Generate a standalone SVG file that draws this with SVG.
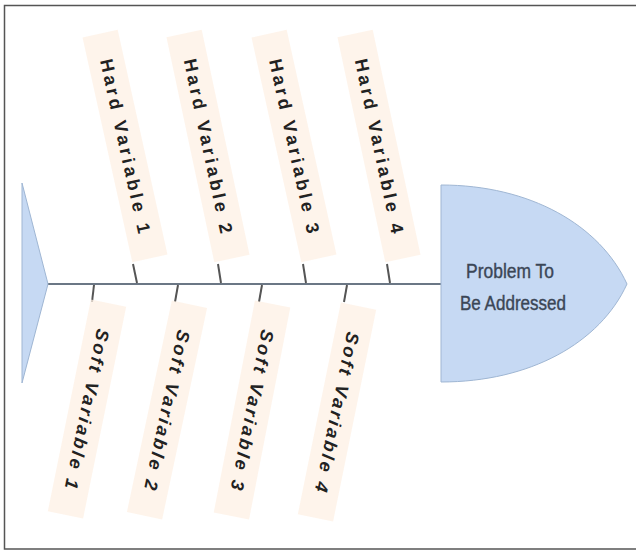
<svg xmlns="http://www.w3.org/2000/svg" width="636" height="550" viewBox="0 0 636 550">
<style>
.box{fill:#fdf0e4;opacity:0.75}
.hard{font-family:"Liberation Sans",Arial,sans-serif;font-size:18px;font-weight:bold;fill:#222;dominant-baseline:central;text-anchor:middle}
.soft{font-family:"Liberation Sans",Arial,sans-serif;font-size:18px;font-weight:bold;font-style:italic;fill:#222;dominant-baseline:central;text-anchor:middle}
.tick{stroke:#555;stroke-width:2;fill:none}
.spine{stroke:#6b7785;stroke-width:2;fill:none}
.shape{fill:#c6d9f3;stroke:#9fb6d3;stroke-width:1}
.head{font-family:"Liberation Sans",Arial,sans-serif;font-size:21px;fill:#3b4656;stroke:#3b4656;stroke-width:0.4;text-anchor:middle}
</style>
<rect x="4.5" y="5.5" width="640" height="543.5" fill="#fff" stroke="#555" stroke-width="1.5"/>
<g id="connectors">
<line class="spine" x1="46" y1="284" x2="442" y2="284"/>
<line class="tick" x1="133" y1="264" x2="137" y2="283"/>
<line class="tick" x1="218" y1="264" x2="221" y2="283"/>
<line class="tick" x1="303" y1="264" x2="306" y2="283"/>
<line class="tick" x1="387" y1="264" x2="390" y2="283"/>
<line class="tick" x1="94" y1="285" x2="92" y2="302"/>
<line class="tick" x1="178" y1="285" x2="175" y2="302"/>
<line class="tick" x1="262" y1="285" x2="259" y2="302"/>
<line class="tick" x1="347" y1="285" x2="344" y2="302"/>
</g>
<g id="tail"><polygon class="shape" points="22,183 48,284 22,383"/></g>
<g id="head">
<path class="shape" d="M441,185 C530,185 600,225 627,284 C600,343 530,382 441,382 Z"/>
<text class="head" x="510" y="278" textLength="88" lengthAdjust="spacingAndGlyphs">Problem To</text>
<text class="head" x="513" y="310" textLength="106" lengthAdjust="spacingAndGlyphs">Be Addressed</text>
</g>
<g id="hard1" transform="translate(125,146) rotate(77.5)"><rect class="box" x="-115" y="-18" width="230" height="36"/><text class="hard" x="0" y="0" textLength="178" lengthAdjust="spacing">Hard Variable 1</text></g>
<g id="hard2" transform="translate(208,146) rotate(78)"><rect class="box" x="-115" y="-18" width="230" height="36"/><text class="hard" x="0" y="0" textLength="178" lengthAdjust="spacing">Hard Variable 2</text></g>
<g id="hard3" transform="translate(294,146) rotate(77.5)"><rect class="box" x="-115" y="-18" width="230" height="36"/><text class="hard" x="0" y="0" textLength="178" lengthAdjust="spacing">Hard Variable 3</text></g>
<g id="hard4" transform="translate(379,146) rotate(78)"><rect class="box" x="-115" y="-18" width="230" height="36"/><text class="hard" x="0" y="0" textLength="178" lengthAdjust="spacing">Hard Variable 4</text></g>
<g id="soft1" transform="translate(87,409) rotate(101.5)"><rect class="box" x="-108" y="-18" width="216" height="36"/><text class="soft" x="0" y="0" textLength="163" lengthAdjust="spacing">Soft Variable 1</text></g>
<g id="soft2" transform="translate(167,410) rotate(102)"><rect class="box" x="-108" y="-18" width="216" height="36"/><text class="soft" x="0" y="0" textLength="163" lengthAdjust="spacing">Soft Variable 2</text></g>
<g id="soft3" transform="translate(252,410) rotate(101)"><rect class="box" x="-108" y="-18" width="216" height="36"/><text class="soft" x="0" y="0" textLength="163" lengthAdjust="spacing">Soft Variable 3</text></g>
<g id="soft4" transform="translate(337,412) rotate(101.5)"><rect class="box" x="-108" y="-18" width="216" height="36"/><text class="soft" x="0" y="0" textLength="163" lengthAdjust="spacing">Soft Variable 4</text></g>
</svg>
